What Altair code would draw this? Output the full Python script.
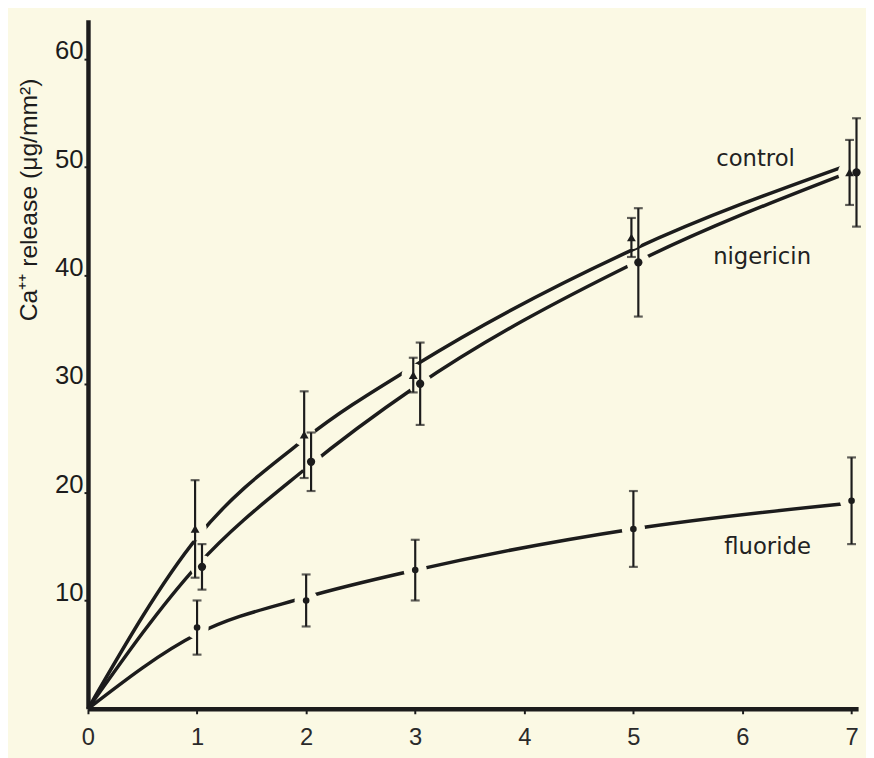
import altair as alt
import pandas as pd

# ---- data ----
x_points = [1, 2, 3, 5, 7]
control_mean = [16.6, 25.3, 30.8, 43.5, 49.5]
control_err = [4.5, 4.0, 1.6, 1.8, 3.0]
nigericin_mean = [13.1, 22.8, 30.0, 41.2, 49.5]
nigericin_err = [2.1, 2.7, 3.8, 5.0, 5.0]
fluoride_mean = [7.5, 10.0, 12.8, 16.6, 19.2]
fluoride_err = [2.5, 2.4, 2.8, 3.5, 4.0]

curve_x = [0, 1, 2, 3, 5, 7]
control_curve = [0, 15.8, 25.0, 31.7, 42.4, 50.3]
nigericin_curve = [0, 13.2, 22.2, 29.7, 41.1, 49.6]
fluoride_curve = [0, 6.9, 10.3, 12.8, 16.6, 19.0]

label_names = ["control", "nigericin", "fluoride"]
label_x = [6.12, 6.18, 6.23]
label_y = [50.7, 41.7, 14.9]

x_ticks = [0, 1, 2, 3, 4, 5, 6, 7]
y_ticks = [10, 20, 30, 40, 50, 60]

INK = "#1c1c1c"
BG = "#fbf9e4"

xs = alt.Scale(domain=[0, 7.06], nice=False, zero=False)
ys = alt.Scale(domain=[0, 63.6], nice=False, zero=False)

X = alt.X("x:Q", scale=xs, axis=alt.Axis(
    values=x_ticks, format="d", title=None, grid=False,
    domainColor=INK, domainWidth=4.5, tickColor=INK, tickSize=5, tickWidth=2,
    labelFont="Liberation Sans Narrow, Liberation Sans", labelFontSize=24,
    labelColor="#2a2a2a", labelPadding=12, labelFlush=False))
Y = alt.Y("y:Q", scale=ys, axis=alt.Axis(
    values=y_ticks, format="d", grid=False,
    title="Ca\u207a\u207a release (\u03bcg/mm\u00b2)",
    titleFont="Liberation Sans", titleFontSize=25, titleFontWeight="normal",
    titleColor=INK, titleAngle=270, titleX=-60, titleY=182,
    titleAlign="center", titleBaseline="middle",
    domainColor=INK, domainWidth=4.5, tickColor=INK, tickSize=4, tickWidth=2,
    labelFont="Liberation Sans", labelFontSize=26, labelColor=INK,
    labelBaseline="alphabetic", labelPadding=1, labelFlush=False))

def curve_df(vals):
    return pd.DataFrame({"x": curve_x, "y": vals})

def point_df(means, errs):
    return pd.DataFrame({
        "x": x_points, "y": means,
        "lo": [m - e for m, e in zip(means, errs)],
        "hi": [m + e for m, e in zip(means, errs)],
    })

series = [
    (control_curve, control_mean, control_err, "triangle-up", 80, -2),
    (nigericin_curve, nigericin_mean, nigericin_err, "circle", 70, 5),
    (fluoride_curve, fluoride_mean, fluoride_err, "circle", 45, 0),
]

lines, halos, bars, marks = [], [], [], []
for curve, means, errs, shape, size, off in series:
    lines.append(alt.Chart(curve_df(curve)).mark_line(
        interpolate="monotone", color=INK, strokeWidth=3.5).encode(x=X, y=Y))
    pdf = point_df(means, errs)
    base = alt.Chart(pdf)
    halos.append(base.mark_point(shape="circle", filled=True, opacity=1,
                                 color=BG, size=550, xOffset=off).encode(x=X, y=Y))
    bars.append(base.mark_rule(color=INK, strokeWidth=2.2, xOffset=off).encode(
        x=X, y=alt.Y("lo:Q", scale=ys), y2="hi:Q"))
    bars.append(base.mark_tick(orient="horizontal", color=INK, size=9,
                               thickness=2.2, xOffset=off).encode(
        x=X, y=alt.Y("lo:Q", scale=ys)))
    bars.append(base.mark_tick(orient="horizontal", color=INK, size=9,
                               thickness=2.2, xOffset=off).encode(
        x=X, y=alt.Y("hi:Q", scale=ys)))
    marks.append(base.mark_point(shape=shape, filled=True, opacity=1,
                                 color=INK, size=size, xOffset=off).encode(x=X, y=Y))

labels = alt.Chart(pd.DataFrame({"x": label_x, "y": label_y, "t": label_names})).mark_text(
    font="DejaVu Sans", fontSize=23, color="#222222", align="center", baseline="middle"
).encode(x=X, y=Y, text="t:N")

chart = alt.layer(*lines, *halos, *bars, *marks, labels).properties(
    width=780, height=698, background=BG,
    autosize=alt.AutoSizeParams(type="none"),
    padding={"left": 81, "top": 7, "right": 8, "bottom": 45},
).configure_view(stroke="transparent")

chart.save("out.html", embed_options={"renderer": "svg", "actions": False})
